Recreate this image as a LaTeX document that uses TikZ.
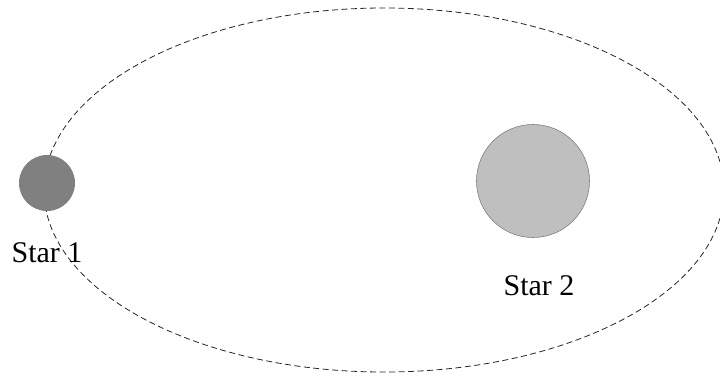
\documentclass[tikz,border=0pt]{standalone}
\usepackage{fontspec}
\setmainfont{Liberation Serif}
\begin{document}
\begin{tikzpicture}[x=1pt,y=-1pt,
  orbit/.style={draw=black!85, line width=0.8pt, dash pattern=on 6pt off 3.5pt},
  starA/.style={circle, inner sep=0pt, minimum size=56pt, fill=black!50, draw=none},
  starB/.style={circle, inner sep=0pt, minimum size=113pt, fill=black!25, draw=black!50, line width=0.6pt},
  lbl/.style={font=\fontsize{30}{34}\selectfont, inner sep=0pt, anchor=base}]
\useasboundingbox (0,0) rectangle (720,376);
\draw[orbit] (384,190) ellipse [x radius=340pt, y radius=182pt];
\node[starA] (s1) at (47,183) {};
\node[starB] (s2) at (533,181) {};
\node[lbl] (l1) at (47,262) {Star 1};
\node[lbl] (l2) at (539,295) {Star 2};
\end{tikzpicture}
\end{document}
